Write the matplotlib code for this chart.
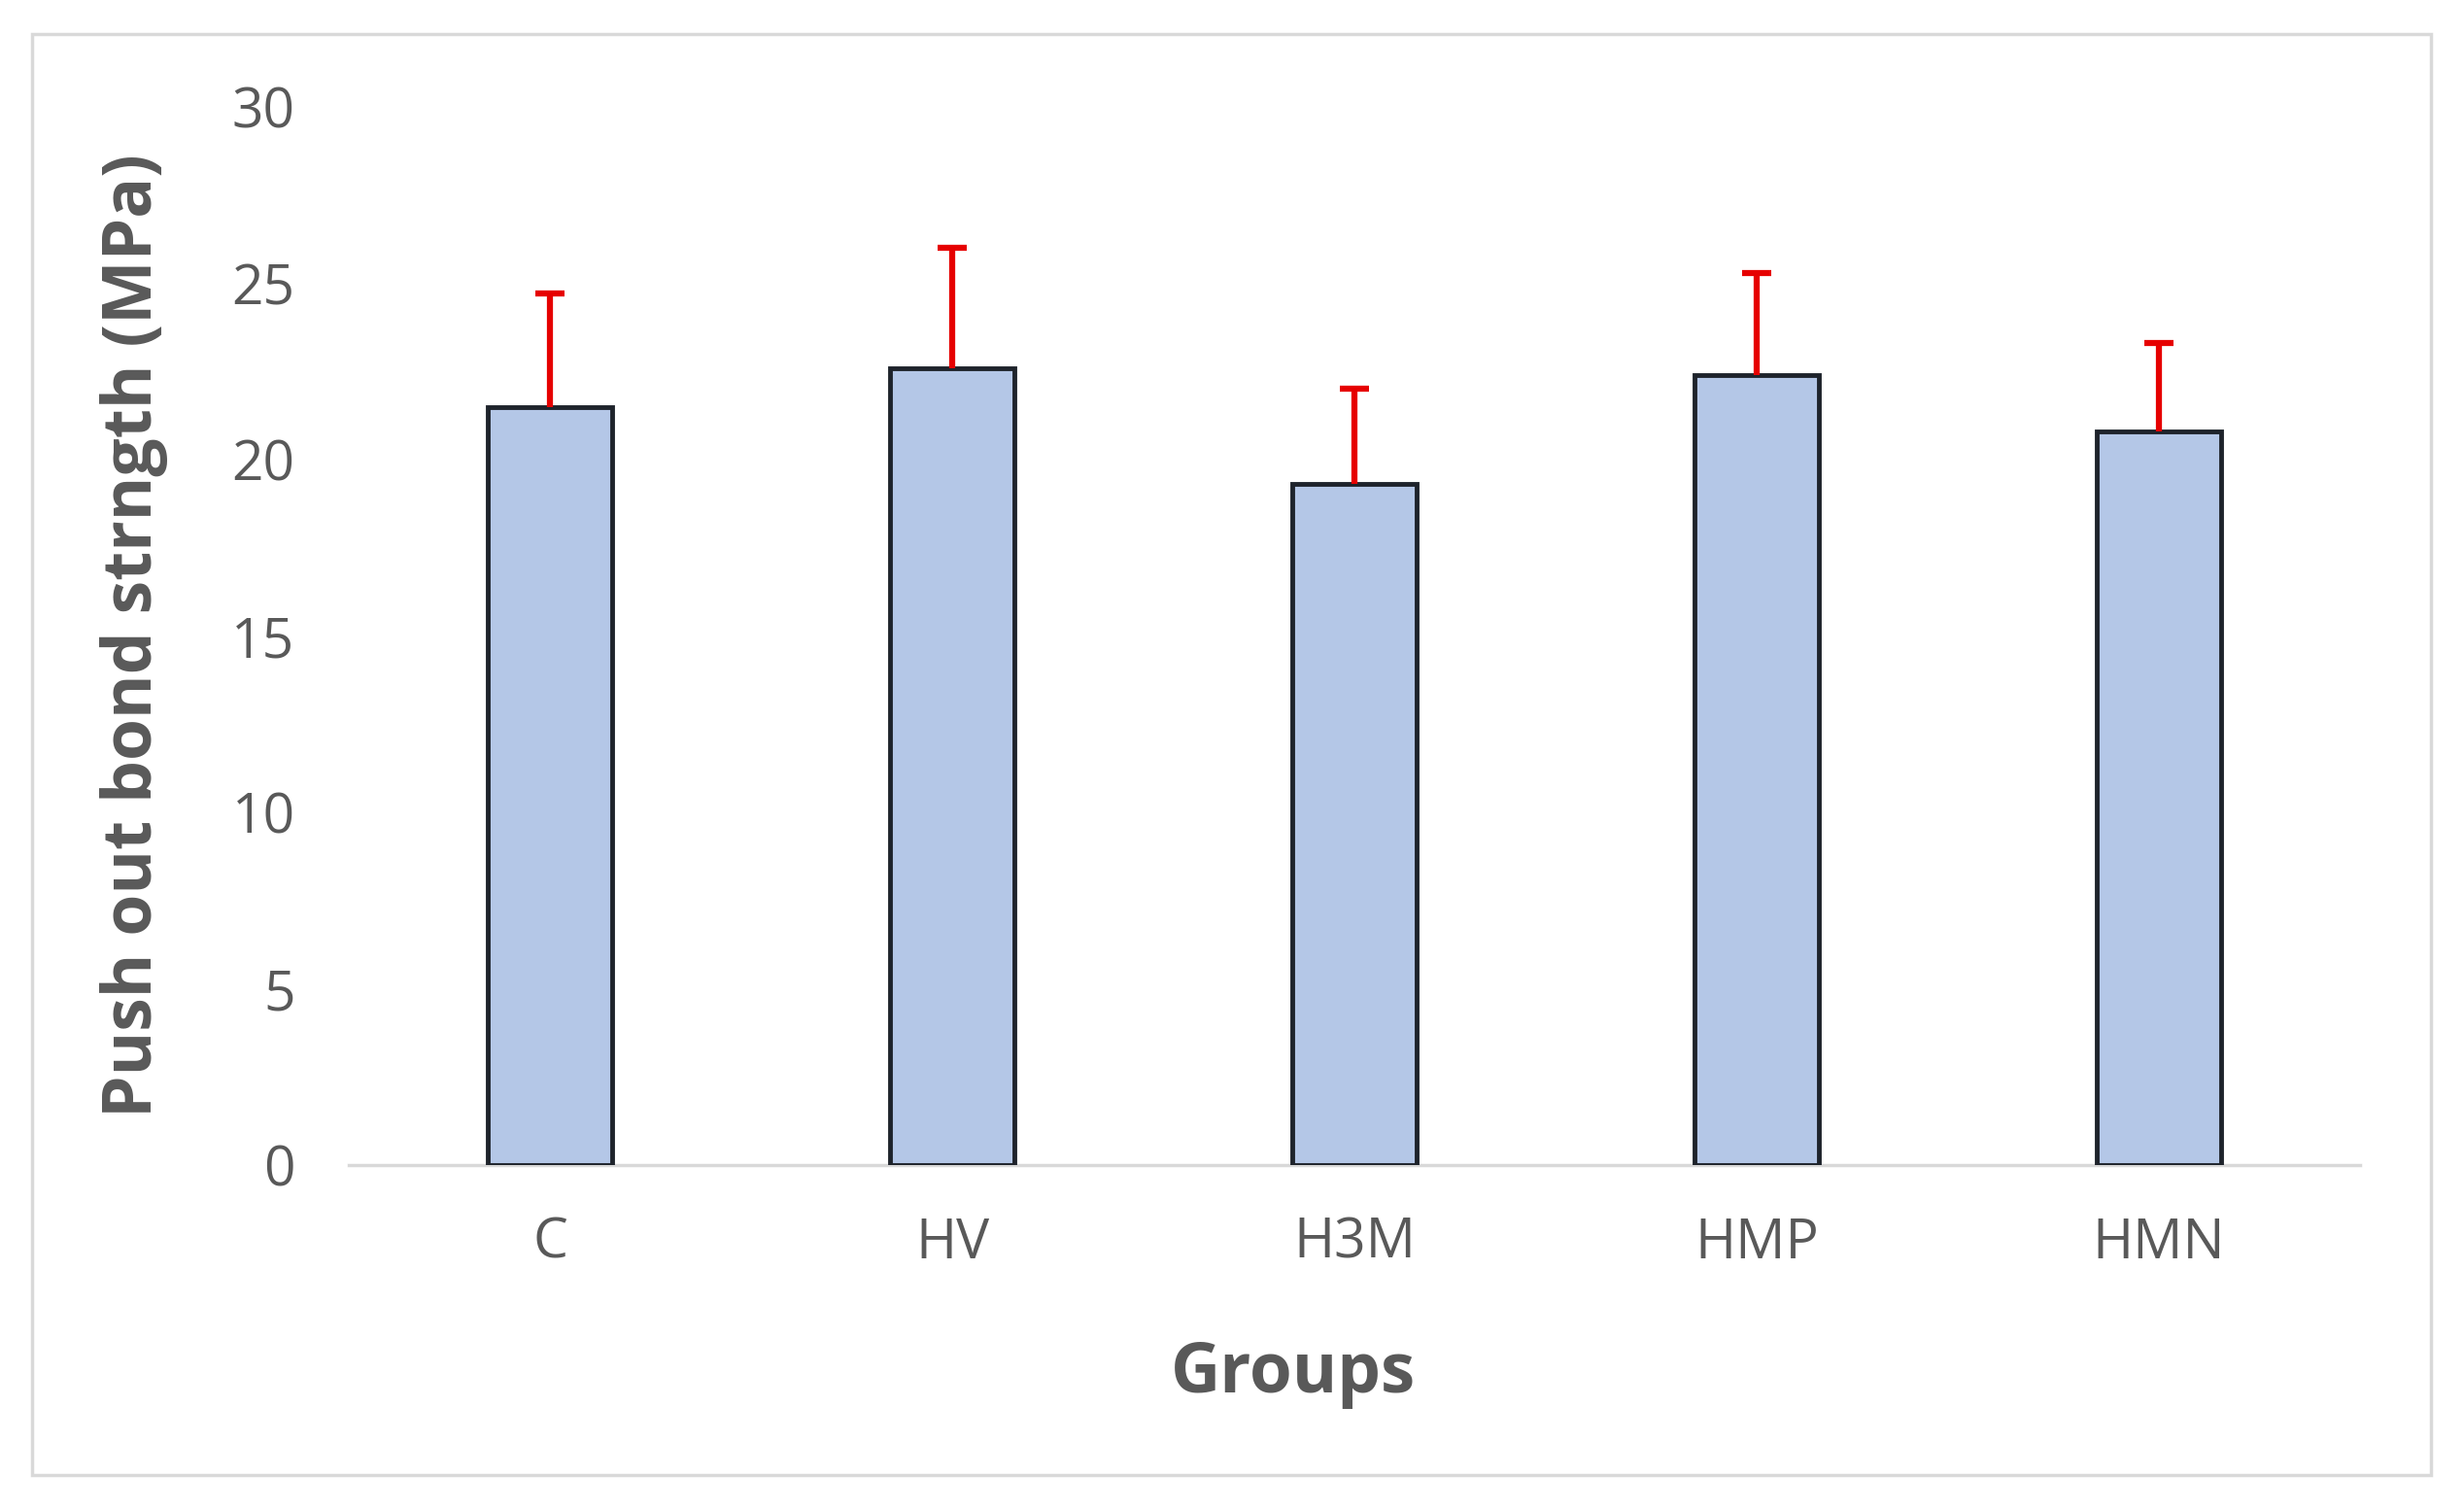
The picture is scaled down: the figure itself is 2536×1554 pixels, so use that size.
import matplotlib
matplotlib.use("Agg")
import matplotlib.pyplot as plt
from matplotlib.patches import Rectangle

groups = ["C", "HV", "H3M", "HMP", "HMN"]
means = [21.5, 22.6, 19.3, 22.4, 20.8]
sd = [3.2, 3.4, 2.7, 2.9, 2.5]
yticks = [0, 5, 10, 15, 20, 25, 30]

plt.rcParams["font.family"] = ["Open Sans", "DejaVu Sans"]
GREY = "#595959"

fig = plt.figure(figsize=(25.36, 15.54), dpi=100)
ax = fig.add_axes([0.1416, 0.2284, 0.8162, 0.7008])

x = list(range(len(groups)))
ax.bar(x, means, width=0.31, color="#b4c7e7", edgecolor="#1e232b",
       linewidth=3.5, zorder=2)
eb = ax.errorbar(x, means, yerr=[[0] * len(sd), sd], fmt="none",
                 ecolor="#e60000", elinewidth=4.5, capsize=11, capthick=4.5,
                 zorder=3)
eb[1][0].set_visible(False)  # only the upper cap, like the original

ax.set_xlim(-0.5, 4.5)
ax.set_ylim(0, 30)
ax.set_yticks(yticks)
ax.set_xticks(x)
ax.set_xticklabels(groups)
ax.tick_params(axis="both", length=0, labelsize=41, labelcolor=GREY)
ax.tick_params(axis="y", pad=40)
ax.tick_params(axis="x", pad=38)

for s in ["top", "right", "left"]:
    ax.spines[s].set_visible(False)
ax.spines["bottom"].set_color("#d9d9d9")
ax.spines["bottom"].set_linewidth(2.5)
ax.spines["bottom"].set_zorder(1)

ax.set_ylabel("Push out bond strngth (MPa)", fontsize=50, fontweight="bold",
              color=GREY)
ax.yaxis.set_label_coords(-0.107, 0.5)
ax.yaxis.label.set_verticalalignment("center")
ax.set_xlabel("Groups", fontsize=51, fontweight="bold", color=GREY)
ax.xaxis.set_label_coords(0.4696, -0.197)
ax.xaxis.label.set_verticalalignment("center")

# light frame around the whole chart area
fig.patches.append(Rectangle((33 / 2536, 1 - 1518 / 1554),
                             (2502 - 33) / 2536, (1518 - 35) / 1554,
                             transform=fig.transFigure, fill=False,
                             edgecolor="#d9d9d9", linewidth=2.5))

fig.savefig("out.png", dpi=100)
